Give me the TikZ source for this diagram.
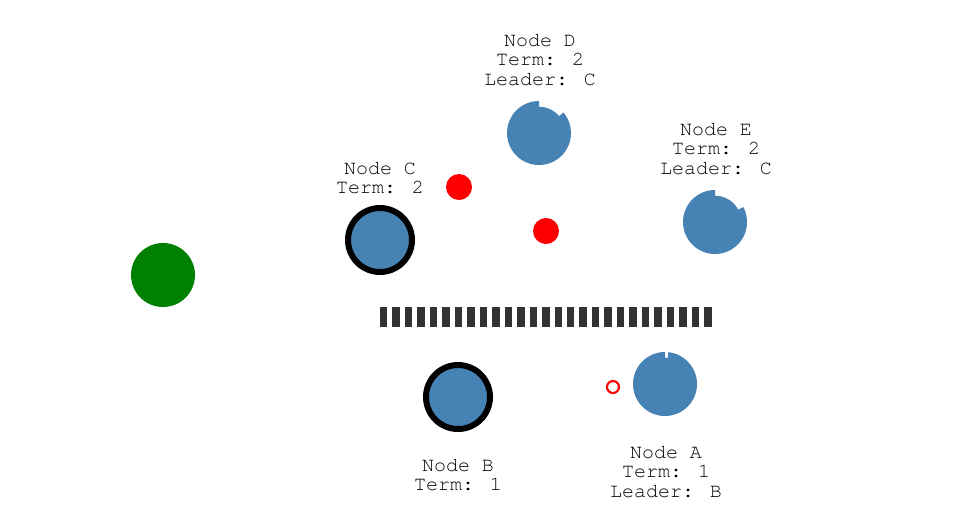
\documentclass[tikz,border=0pt]{standalone}
\usepackage{fontspec}
\newfontfamily\labfont{TeX Gyre Cursor}
\definecolor{steel}{HTML}{4682B4}
\definecolor{bar}{HTML}{333333}
\definecolor{grn}{HTML}{008000}
\begin{document}
\begin{tikzpicture}[x=0.75pt,y=0.75pt,
  lab/.style={align=center, font=\labfont\fontsize{15pt}{14.6pt}\selectfont, inner sep=0pt},
  srv/.style={circle, fill=steel, inner sep=0pt, minimum size=48pt},
  core/.style={circle, fill=steel, inner sep=0pt, minimum size=39.5pt},
  ring/.style={fill=steel},
  lead/.style={srv, draw=black, line width=4.5pt},
  msg/.style={circle, fill=red, inner sep=0pt, minimum size=19.5pt},
  ack/.style={circle, draw=red, line width=1.6pt, inner sep=0pt, minimum size=9pt},
  client/.style={circle, fill=grn, inner sep=0pt, minimum size=48pt},
  wall/.style={draw=bar, line width=15pt, dash pattern=on 5.6pt off 3.75pt}]
\useasboundingbox (0,0) rectangle (964,-526);
% client
\node[client] (G) at (163,-275) {};
% leaders with stroke
\node[lead] (C) at (380,-240) {};
\node[lead] (B) at (458,-397) {};
% servers with timer rings
\node[core] (D) at (539,-133) {};
\fill[ring] (D.center) ++(90:32) arc[start angle=90, end angle=400, radius=32] -- ++(220:6) arc[start angle=400, end angle=90, radius=26] -- cycle;
\node[core] (E) at (715,-222) {};
\fill[ring] (E.center) ++(90:32) arc[start angle=90, end angle=388, radius=32] -- ++(208:6) arc[start angle=388, end angle=90, radius=26] -- cycle;
\node[core] (A) at (665,-384) {};
\fill[ring] (A.center) ++(90:32) arc[start angle=90, end angle=444, radius=32] -- ++(264:6) arc[start angle=444, end angle=90, radius=26] -- cycle;
% messages
\node[msg] (m1) at (459,-187) {};
\node[msg] (m2) at (546,-231) {};
\node[ack] (m3) at (613,-387) {};
% partition
\coordinate (w1) at (380,-317);
\coordinate (w2) at (713,-317);
\draw[wall] (w1) -- (w2);
% labels
\node[lab] (tD) at (540,-60) {Node D\\Term: 2\\Leader: C};
\node[lab] (tE) at (716,-149) {Node E\\Term: 2\\Leader: C};
\node[lab] (tC) at (380,-178) {Node C\\Term: 2};
\node[lab] (tB) at (458,-475) {Node B\\Term: 1};
\node[lab] (tA) at (666,-472) {Node A\\Term: 1\\Leader: B};
\end{tikzpicture}
\end{document}
